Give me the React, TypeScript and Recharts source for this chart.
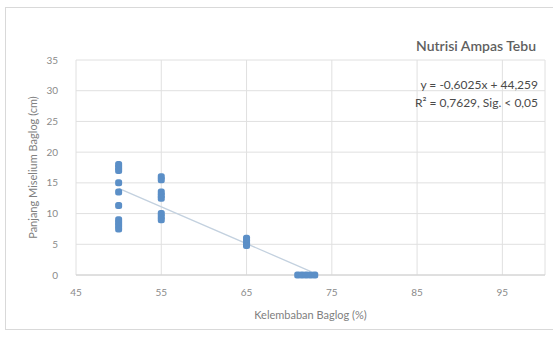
import {
  ScatterChart,
  Scatter,
  XAxis,
  YAxis,
  CartesianGrid,
} from "recharts";

// kelembaban baglog (%) vs panjang miselium (cm)
const kelembaban = [
  50, 50, 50, 50, 50, 50, 50, 50, 50, 50,
  55, 55, 55, 55, 55, 55, 55, 55,
  65, 65, 65, 65,
  71, 71.5, 72, 72.5, 73,
];
const panjang = [
  18, 17.5, 17, 15, 13.5, 11.3, 9, 8.5, 8, 7.5,
  16, 15.5, 13.5, 13, 12.5, 10, 9.5, 9,
  6, 5.5, 5, 4.8,
  0, 0, 0, 0, 0,
];
const trendX = [50, 72.5];
const trendY = [14.1, 0.6];
const xTicks = [45, 55, 65, 75, 85, 95];
const yTicks = [0, 5, 10, 15, 20, 25, 30, 35];

const points = kelembaban.map((x, i) => ({ x, y: panjang[i] }));
const trend = trendX.map((x, i) => ({ x, y: trendY[i] }));

const FONT = "Lato, 'Open Sans', sans-serif";
const tick = { fill: "#8a8a8a", fontSize: 10, fontFamily: FONT };

const App = () => {
  return (
    <div
      style={{
        position: "absolute",
        left: 0,
        top: 0,
        width: 553,
        height: 341,
        background: "#fff",
        fontFamily: FONT,
      }}
    >
      <div
        style={{
          position: "absolute",
          left: 5,
          top: 7,
          width: 560,
          height: 323,
          border: "1px solid #d9d9d9",
          boxSizing: "border-box",
        }}
      />
      <ScatterChart
        width={553}
        height={341}
        margin={{ top: 60, right: 8, bottom: 0, left: 0 }}
        style={{ position: "absolute", left: 0, top: 0 }}
      >
        <CartesianGrid stroke="#e0e0e0" strokeWidth={1} />
        <XAxis
          type="number"
          dataKey="x"
          domain={[45, 100]}
          ticks={xTicks}
          allowDataOverflow
          tick={tick}
          tickLine={false}
          axisLine={{ stroke: "#d0d0d0" }}
          height={66}
          tickMargin={8}
          label={{
            value: "Kelembaban Baglog (%)",
            position: "insideTop",
            offset: 36,
            fill: "#808080",
            fontSize: 11,
            fontFamily: FONT,
          }}
        />
        <YAxis
          type="number"
          dataKey="y"
          domain={[0, 35]}
          ticks={yTicks}
          tick={tick}
          tickLine={false}
          axisLine={false}
          width={76}
          tickMargin={12}
          label={{
            value: "Panjang Miselium Baglog (cm)",
            angle: -90,
            position: "insideLeft",
            offset: 33,
            style: { textAnchor: "middle" },
            fill: "#808080",
            fontSize: 11,
            fontFamily: FONT,
          }}
        />
        <Scatter
          data={trend}
          line={{ stroke: "#c3d1df", strokeWidth: 1.3 }}
          shape={() => <g />}
          isAnimationActive={false}
        />
        <Scatter
          data={points}
          fill="#5b8fc7"
          shape={(p: any) => (
            <rect
              x={p.cx - 3.5}
              y={p.cy - 3.5}
              width={7}
              height={7}
              rx={2.5}
              fill="#5b8fc7"
            />
          )}
          isAnimationActive={false}
        />
        <text
          x={536}
          y={51}
          textAnchor="end"
          fill="#5f5f5f"
          fontSize={14}
          fontWeight={600}
          fontFamily={FONT}
        >
          Nutrisi Ampas Tebu
        </text>
        <text
          x={538}
          y={89}
          textAnchor="end"
          fill="#4a4a4a"
          fontSize={12}
          fontFamily={FONT}
        >
          y = -0,6025x + 44,259
        </text>
        <text
          x={538}
          y={107}
          textAnchor="end"
          fill="#4a4a4a"
          fontSize={12}
          fontFamily={FONT}
        >
          R² = 0,7629, Sig. &lt; 0,05
        </text>
      </ScatterChart>
    </div>
  );
};

export default App;
